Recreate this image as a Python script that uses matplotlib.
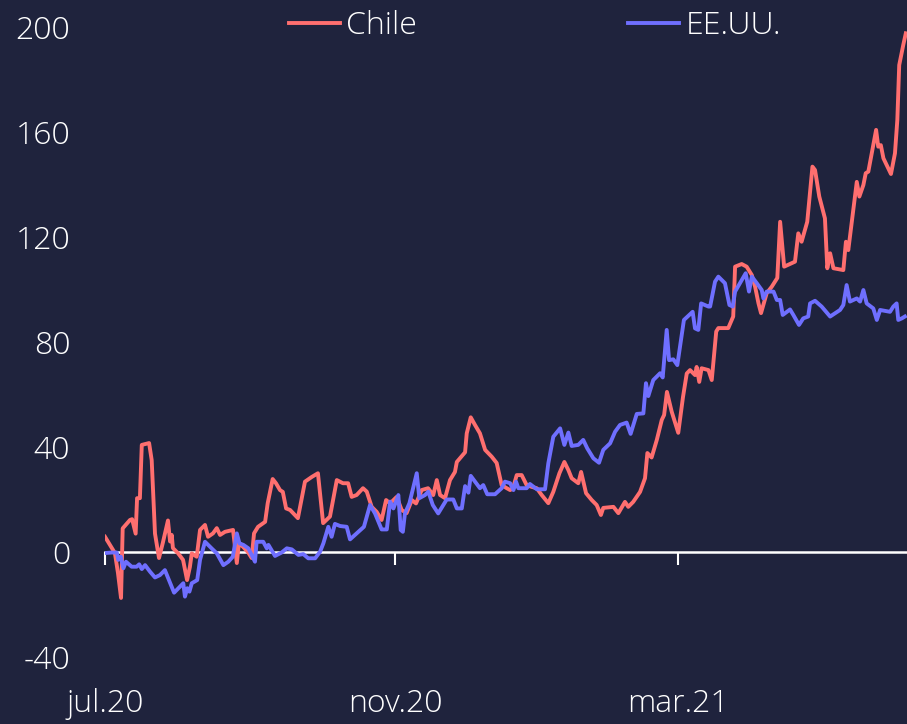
import matplotlib
matplotlib.use("Agg")
import matplotlib.pyplot as plt
import pandas as pd

# ---- data (days since 2020-07-01, index value) ----
start_date = "2020-07-01"
chile_days = [0, 2.1, 4.2, 5.5, 6.8, 7.5, 10.6, 11.5, 13, 13.6, 14.8, 15.6, 18.7, 19.8, 21.2, 22.9, 24.5,
              26.7, 27.6, 28.3, 28.8, 31, 33.1, 34.8, 36, 36.8, 38.9, 40.3, 42.4, 43.7, 45.8, 47.4, 48.8,
              50.9, 54.3, 55.9, 56.8, 58.5, 60.6, 62.2, 63.2, 64.9, 67.9, 69, 71.1, 72.5, 74.2, 75.4,
              76.8, 78.5, 81.8, 84.8, 87.7, 90.3, 92.5, 95.4, 98.3, 100.9, 103.1, 104.6, 106.7, 109.4,
              111, 113.1, 115.2, 117.3, 119.2, 120.9, 123.7, 125.8, 127.9, 130.1, 131.9, 134.3, 137,
              139.2, 140.7, 142.1, 144.2, 146.3, 148.4, 149.2, 152.7, 153.4, 155.1, 156.9, 159, 161.2,
              164, 166.1, 168.2, 170.4, 171.8, 173, 174.6, 176.7, 178.8, 181, 183.1, 185.2, 188, 190.1,
              192.7, 194.8, 196.5, 197.9, 200.7, 201.9, 204, 206.4, 208.5, 210.3, 211.3, 215.6, 217.7,
              220.5, 221.9, 224, 226.9, 229, 230, 231.8, 234, 236.1, 237.1, 238.3, 240.3, 243.1, 245.1,
              246.7, 248.1, 250.2, 250.9, 252, 253, 255.9, 257.3, 259.2, 260.1, 264.3, 266.4, 267.2,
              270, 272.1, 274.3, 275.7, 277.1, 278.2, 280.6, 282.7, 285.1, 286.3, 288, 292.6, 294,
              295.4, 297.8, 300, 301.1, 302.9, 305.3, 306.3, 307.5, 308.9, 313.1, 314.2, 315.2, 318.8,
              319.9, 321.6, 322.6, 323.7, 327, 327.9, 329, 330.1, 333.3, 335, 336, 336.8, 338.5, 339.6]
chile_values = [5.8, 2.7, -0.4, -8, -17.5, 9, 12.2, 12.5, 7, 20.5, 20.5, 40.8, 41.5, 35, 7, -2.3, 3.4,
                12, 4, 6.5, 1.5, -0.5, -3, -10.7, -5.7, -0.5, -1.8, 8.4, 10.3, 5.8, 7.1, 9.1, 6.5,
                7.7, 8.4, -4.2, 3.4, 2, 0, -2.3, 7.1, 9.6, 11.5, 18.6, 27.8, 26.2, 23.6, 22.9,
                16.6, 16, 12.9, 26.8, 28.6, 30, 11, 13.5, 27.4, 26.2, 26.2, 21, 21.7, 24.3,
                23, 17.2, 15.3, 12.2, 19.8, 18.5, 21, 16, 14.8, 19.8, 18.5, 23.6, 24.3,
                21.7, 27.4, 21.7, 20.5, 27.4, 30.5, 34.3, 38, 45.2, 51.3, 48.4, 45.2, 38.9,
                36.3, 33.9, 25.5, 24.3, 23.6, 24.3, 29.3, 29.3, 25.5, 24.8, 24.3, 21.7, 18.6, 22.9,
                30, 34.3, 31.2, 28.1, 26.2, 30.5, 22.4, 19.8, 17.9, 14.1, 16.8, 17.2, 14.8,
                19.1, 17.2, 19.1, 22.9, 28.1, 37.7, 36, 42.7, 50.3, 52.2, 61, 53.5, 45.4, 59,
                68, 69.3, 67.4, 70.5, 64.8, 70, 69.3, 65.5, 84, 85.3, 85.3, 89.7, 108.7,
                109.7, 108.7, 105.5, 101, 94.8, 91, 98.6, 101, 104.4, 125.8, 108.7, 110.6, 121.4,
                118.2, 125.8, 146.8, 145.5, 135.4, 127.1, 108.1, 113.8, 108.1, 107.4, 118.2, 115, 141,
                135.4, 139.8, 144.3, 144.9, 160.8, 154.4, 155, 150, 144, 151.9, 164.6, 185.5, 193.1, 197.6]

usa_days = [0, 2.8, 5, 5.6, 6.7, 7.8, 8.9, 11.3, 13.4, 14.5, 15.6, 17, 19.1, 21.2, 23.3, 25.4, 26.8,
            29.3, 31.8, 33.2, 33.9, 34.9, 35.8, 36.8, 39.1, 40.3, 42.4, 45.2, 47.4, 50.2, 52.3, 54.2,
            55.9, 57, 58.7, 60.8, 63.6, 64.3, 67.1, 68.6, 69.3, 72.1, 74.9, 77.1, 79.2, 82, 84.1,
            86.2, 89.1, 91.2, 92.6, 94.7, 96.1, 97.5, 99.7, 102.5, 103.9, 106.7, 109.8, 112.4, 114.5,
            117.3, 119.5, 120.9, 122.3, 123.4, 124.4, 125.4, 126.3, 127.2, 129.1, 132.2, 133.3, 135.7,
            137.1, 139, 141.3, 144.9, 147.7, 149.2, 151.3, 152.7, 154.1, 155.1, 156.9, 159, 160.4,
            162.1, 165.4, 168.2, 169.6, 171.8, 173.2, 174.3, 175.3, 178.8, 180.2, 183.1, 186.6, 188,
            190.1, 193, 194.8, 196.5, 197.9, 200.7, 202.8, 204.5, 207.1, 209.5, 211.3, 214.2, 216.3,
            218.4, 221.2, 222.9, 225.5, 228.3, 229.4, 230.4, 232.5, 235.4, 236.5, 238.2, 239.2, 241,
            242.7, 245.5, 249.2, 250.2, 251.6, 252.8, 255.9, 256.6, 258.7, 260.1, 262.9, 264.8, 266.2,
            267.2, 270, 271.7, 273.1, 274.3, 276.4, 278.5, 279.2, 280.6, 283.5, 284.9, 286.3, 287.4,
            290.5, 291.9, 294.3, 296.1, 298.2, 299, 301.1, 303.9, 307.5, 311.7, 313.1, 314.5, 315.9,
            318.8, 320.2, 321.6, 323, 325.8, 327.3, 328.7, 332.9, 334.3, 335.7, 336.4, 337.9, 339.2]
usa_values = [-0.4, -0.2, -0.2, -3, -1.8, -6.2, -3.7, -5.6, -5.6, -4.7, -6.5, -5, -7.5, -9.7, -8.8, -6.9, -10,
              -15.5, -13.2, -11.9, -17, -13.8, -15.1, -11.9, -10.7, -3, 3.9, 1.4, -0.5, -5, -3.7, -1.8,
              7.1, 3.3, 2.7, 1.4, -3.7, 3.9, 3.9, 1.4, 2.7, -1.5, -0.2, 1.4, 1, -1.1, -0.8,
              -2.4, -2.4, 0.1, 3.3, 9.6, 5.8, 10.7, 9.9, 9.6, 4.8, 7.1, 9.6, 17.9, 14.7,
              8.6, 8.6, 19.2, 16.6, 19.2, 21.7, 8.4, 7.7, 14.7, 18.6, 30, 20.5, 21.7,
              23, 17.9, 14.7, 20, 20, 16.6, 16.6, 25.1, 22.6, 29, 26.8, 24.3, 25.5,
              22, 22, 24.3, 26.8, 26.2, 23.6, 26.8, 24.3, 24.3, 25.9, 23.9, 23.9, 33.8,
              43.9, 47.1, 40.8, 45.5, 40.4, 40.8, 42.7, 39.5, 35.7, 34, 38.9, 41.4, 45.8,
              48.4, 49.3, 45, 52.6, 52.8, 64.3, 59.4, 65.5, 68.1, 66.5, 84.6, 73.1, 73.4,
              71.2, 88.4, 91.5, 85.2, 84.6, 94.7, 93.5, 93.5, 103, 104.9, 102.4, 94.1, 93.5,
              99.2, 103.6, 106.2, 99.2, 104.9, 102.4, 99.8, 96.6, 99.2, 99.2, 96, 96, 90.3,
              92.4, 90.3, 86.5, 89, 89.7, 94.7, 95.7, 93.5, 89.7, 92.2, 94.1, 101.7, 95.4,
              96.6, 95.4, 99.8, 94.7, 92.8, 88.4, 92.2, 91.5, 93.5, 94.7, 88.4, 89, 89.7]

series_names = ["Chile", "EE.UU."]
tick_dates = ["2020-07-01", "2020-11-01", "2021-03-01"]
tick_labels = ["jul.20", "nov.20", "mar.21"]
y_ticks = [-40, 0, 40, 80, 120, 160, 200]
end_days = 340.1

# ---- style ----
BG = "#1f233d"
RED = "#ff6f6f"
BLUE = "#6f6fff"
plt.rcParams['font.family'] = ['Open Sans', 'DejaVu Sans']
FS = 23

t0 = pd.Timestamp(start_date)
chile_dates = t0 + pd.to_timedelta(chile_days, unit="D")
usa_dates = t0 + pd.to_timedelta(usa_days, unit="D")

fig = plt.figure(figsize=(9.07, 7.24), dpi=100, facecolor=BG)
ax = fig.add_axes([105/907, 67/724, 1 - 105/907, 630/724])
ax.set_facecolor(BG)

l1, = ax.plot(chile_dates, chile_values, color=RED, lw=2.8, solid_joinstyle="round")
l2, = ax.plot(usa_dates, usa_values, color=BLUE, lw=2.8, solid_joinstyle="round")

ax.set_ylim(-40, 200)
ax.set_xlim(t0, t0 + pd.Timedelta(days=end_days))
ax.set_yticks(y_ticks)
ax.set_yticklabels([str(v) for v in y_ticks], fontsize=FS, color="white", fontweight="light")
ax.tick_params(axis="y", length=0, pad=25)

for s in ["top", "right", "left"]:
    ax.spines[s].set_visible(False)
ax.spines["bottom"].set_position(("data", 0))
ax.spines["bottom"].set_color("white")
ax.spines["bottom"].set_linewidth(1.8)
ax.spines["bottom"].set_zorder(1)
xt = pd.to_datetime(tick_dates)
ax.set_xticks(xt)
ax.set_xticklabels([])
ax.tick_params(axis="x", length=9, width=1.5, color="white", direction="out")

sec = ax.secondary_xaxis("bottom")
sec.set_xticks(xt)
sec.set_xticklabels(tick_labels, fontsize=FS, color="white", fontweight="light")
sec.tick_params(length=0, pad=22)
sec.spines["bottom"].set_visible(False)

fig.legend([l1, l2], series_names, loc="center", bbox_to_anchor=(535/907, 1 - 26/724),
           ncol=2, frameon=False, labelcolor="white", handlelength=1.6,
           handletextpad=0.2, columnspacing=6.6, prop={'weight': 'light', 'size': FS})

fig.savefig("out.png", dpi=100, facecolor=BG)
